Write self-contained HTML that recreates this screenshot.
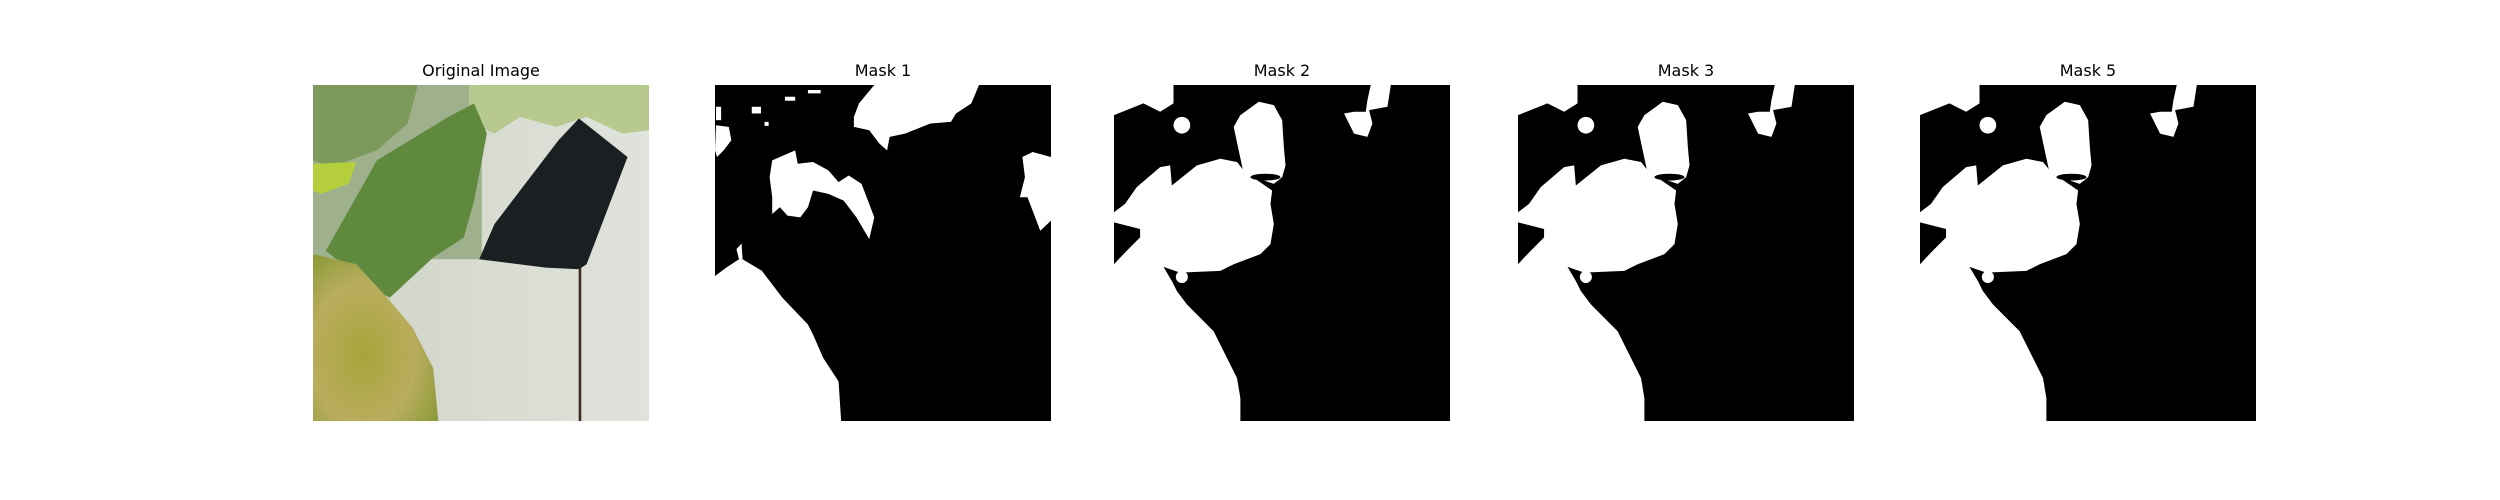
<!DOCTYPE html>
<html><head><meta charset="utf-8"><style>
body{margin:0;background:#fff;width:2500px;height:500px;overflow:hidden;position:relative;font-family:"DejaVu Sans","Liberation Sans",sans-serif}
.title{position:absolute;top:61px;width:336px;text-align:center;font-size:16px;color:#000}
.panel{position:absolute;top:85px;width:336px;height:336px}
</style></head><body>
<div class="title" style="left:313px">Original Image</div>
<div class="title" style="left:715px">Mask 1</div>
<div class="title" style="left:1114px">Mask 2</div>
<div class="title" style="left:1518px">Mask 3</div>
<div class="title" style="left:1920px">Mask 5</div>

<svg class="panel" style="left:313px" viewBox="25 105 657 1003" preserveAspectRatio="none">
<defs>
<linearGradient id="wall" x1="0" y1="0" x2="1" y2="0"><stop offset="0" stop-color="#cfd3c4"/><stop offset="1" stop-color="#dfe3dc"/></linearGradient>
<radialGradient id="yleaf" cx="0.4" cy="0.6" r="0.7"><stop offset="0" stop-color="#a8a43a"/><stop offset="0.6" stop-color="#b9ad5e"/><stop offset="1" stop-color="#8c9a3a"/></radialGradient>
</defs>
<rect x="25" y="105" width="657" height="1003" fill="url(#wall)"/>
<rect x="25" y="105" width="330" height="520" fill="#9fb08c"/>
<polygon points="330,105 682,105 682,240 630,250 560,200 500,230 430,200 380,250 330,220" fill="#b8c98f"/>
<polygon points="25,105 230,105 210,220 150,300 60,350 25,330" fill="#7c9a5c"/>
<polygon points="25,340 110,335 95,400 40,430 25,420" fill="#b5cf3c"/>
<polygon points="50,600 150,330 290,200 340,160 365,250 340,450 320,560 260,620 175,740 150,720" fill="#5f8a3e"/>
<polygon points="350,625 380,520 505,270 545,205 640,320 560,640 545,655 480,650" fill="#1b1f22"/>
<line x1="547" y1="650" x2="547" y2="1108" stroke="#3a2a22" stroke-width="5"/>
<polygon points="25,610 110,640 170,740 220,830 260,950 270,1108 25,1108" fill="url(#yleaf)"/>
</svg>

<svg class="panel" style="left:715px" viewBox="808 105 658 1003" preserveAspectRatio="none">
<rect x="808" y="105" width="658" height="1003" fill="#000"/>
<g fill="#fff">
<polygon points="808,675 830,650 855,625 850,595 860,578 862,625 900,660 940,740 990,820 1000,850 1020,920 1050,990 1055,1108 808,1108"/>
<polygon points="1080,200 1090,160 1120,105 1325,105 1310,160 1280,190 1270,215 1230,220 1180,250 1150,260 1145,300 1130,280 1110,240 1080,230"/>
<polygon points="920,330 965,300 970,340 1000,335 1030,360 1050,395 1070,375 1095,400 1120,500 1110,565 1085,500 1060,450 1030,430 1000,420 990,470 975,500 950,495 935,470 920,490 920,440 915,380"/>
<polygon points="1410,320 1430,305 1466,320 1466,510 1445,540 1435,500 1420,440 1405,440 1415,380"/>
<polygon points="810,225 835,230 840,270 825,300 812,320 808,300"/>
<rect x="880" y="170" width="18" height="20"/><rect x="945" y="140" width="20" height="12"/><rect x="990" y="120" width="25" height="10"/><rect x="810" y="170" width="10" height="40"/><rect x="905" y="215" width="8" height="12"/>
</g></svg>

<svg class="panel" style="left:1114px" viewBox="42 105 1005 1003" preserveAspectRatio="none"><use href="#m2"/></svg>
<svg class="panel" style="left:1518px" viewBox="42 105 1005 1003" preserveAspectRatio="none"><use href="#m2"/></svg>
<svg class="panel" style="left:1920px" viewBox="42 105 1005 1003" preserveAspectRatio="none"><use href="#m2"/></svg>

<svg width="0" height="0" style="position:absolute"><defs><g id="m2">
<rect x="42" y="105" width="1005" height="1003" fill="#000"/>
<g fill="#fff">
<polygon points="42,485 75,460 110,410 180,350 210,345 215,405 290,345 360,325 410,335 430,360 450,375 515,420 510,460 520,520 510,580 480,610 400,640 360,660 240,665 190,648 215,690 230,720 260,760 340,840 380,920 410,980 420,1040 420,1108 42,1108 42,640 75,605 120,560 120,535 42,515"/>
<polygon points="400,230 420,195 475,155 520,165 545,210 550,290 555,345 545,380 520,400 430,370 415,300"/>
<polygon points="42,195 130,160 180,185 220,160 220,105 42,105"/>
<circle cx="245" cy="225" r="25"/>
<polygon points="730,190 760,250 800,260 815,220 805,180 860,170 870,105 810,105 800,150 795,185 760,185"/>
<circle cx="245" cy="678" r="18"/>
</g>
<ellipse cx="495" cy="380" rx="45" ry="10" fill="#000"/>
</g></defs></svg>
</body></html>
